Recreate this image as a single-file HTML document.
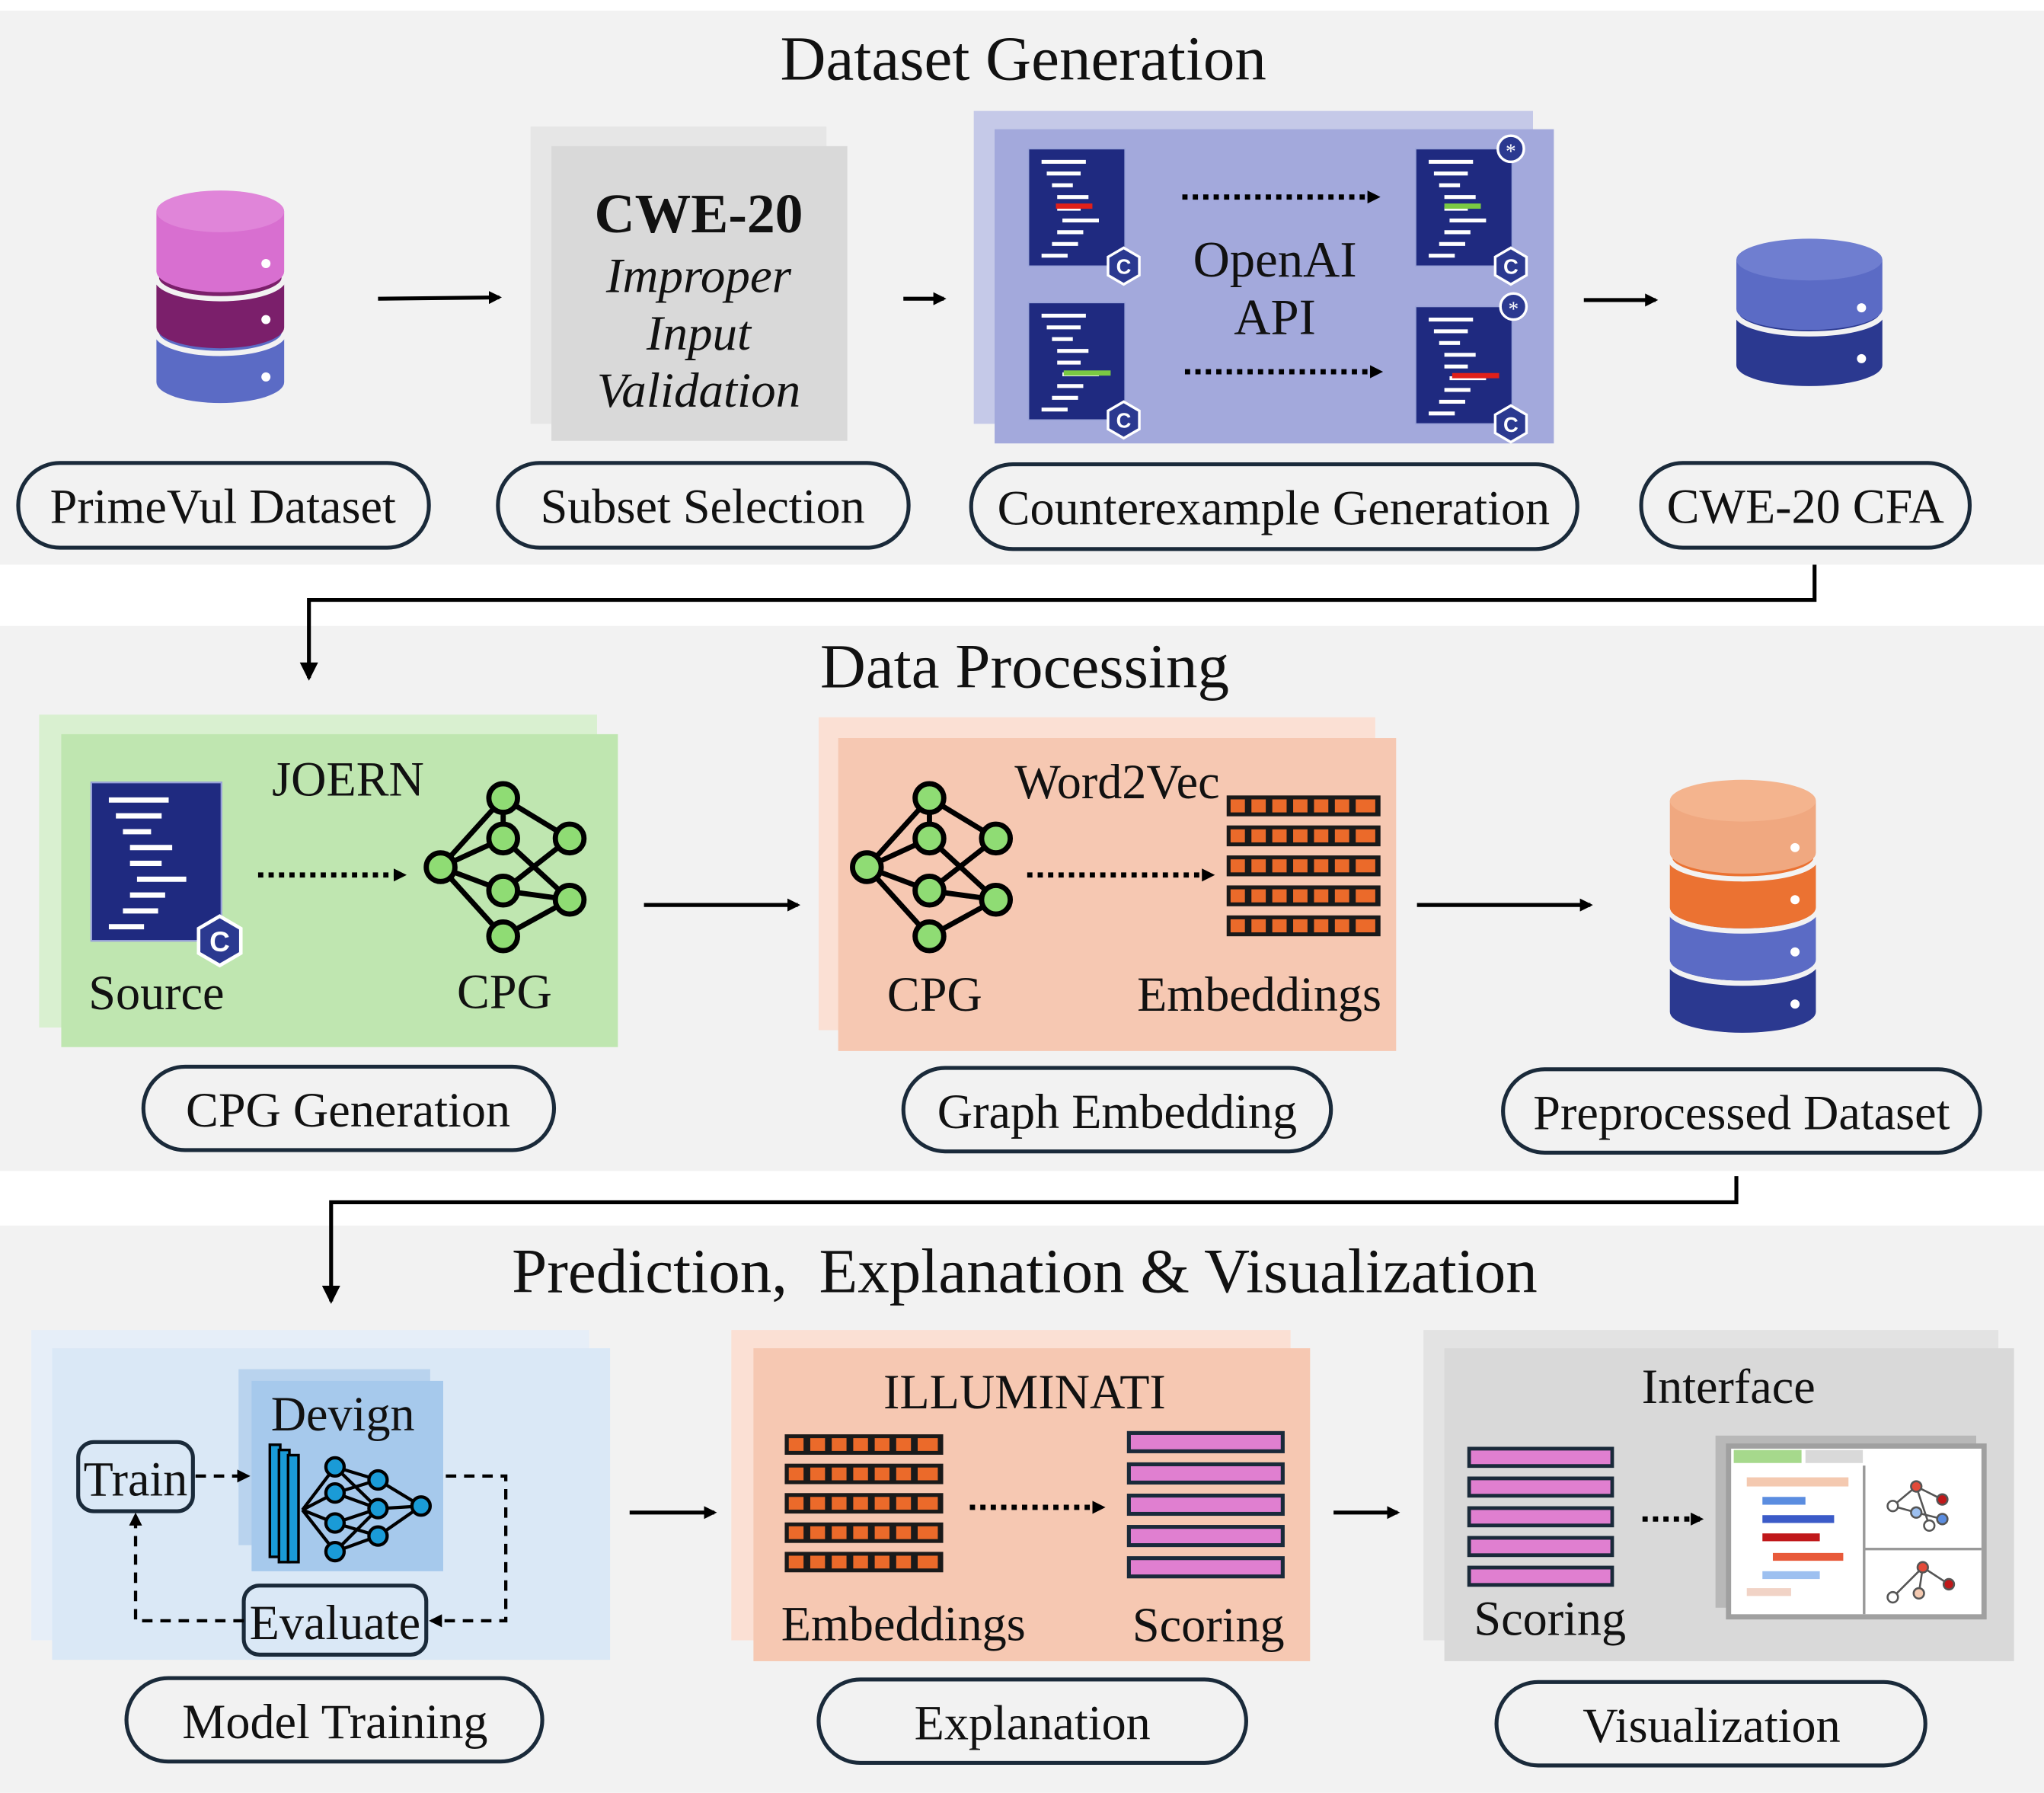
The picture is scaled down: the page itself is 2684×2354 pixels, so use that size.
<!DOCTYPE html>
<html><head><meta charset="utf-8"><style>html,body{margin:0;padding:0;background:#fff}svg{display:block}text{font-family:"Liberation Serif",serif;fill:#111}</style></head>
<body>
<svg width="2684" height="2354" viewBox="0 0 1568 1375" xmlns="http://www.w3.org/2000/svg">
<defs>
<marker id="ah" markerWidth="10" markerHeight="10" refX="8" refY="5" orient="auto" markerUnits="userSpaceOnUse"><path d="M0,0 L10,5 L0,10 z" fill="#000"/></marker>
<marker id="ah2" markerWidth="14" markerHeight="14" refX="12" refY="7" orient="auto" markerUnits="userSpaceOnUse"><path d="M0,0 L14,7 L0,14 z" fill="#000"/></marker>
<g id="graph">
<g stroke="#000" stroke-width="4" fill="none">
<line x1="0" y1="0" x2="48" y2="-53"/><line x1="0" y1="0" x2="48" y2="-22"/><line x1="0" y1="0" x2="48" y2="18"/><line x1="0" y1="0" x2="48" y2="53"/>
<line x1="48" y1="-53" x2="99" y2="-22"/><line x1="48" y1="-22" x2="99" y2="25"/><line x1="48" y1="18" x2="99" y2="-22"/><line x1="48" y1="18" x2="99" y2="25"/><line x1="48" y1="53" x2="99" y2="25"/><line x1="48" y1="-53" x2="48" y2="-22"/>
</g>
<g fill="#8fdc74" stroke="#000" stroke-width="4">
<circle cx="0" cy="0" r="11"/><circle cx="48" cy="-53" r="11"/><circle cx="48" cy="-22" r="11"/><circle cx="48" cy="18" r="11"/><circle cx="48" cy="53" r="11"/><circle cx="99" cy="-22" r="11"/><circle cx="99" cy="25" r="11"/>
</g></g>
<g id="grid">
<rect x="0" y="0" width="118" height="16" fill="#1a1a1a"/>
<g fill="#eb6a2a"><rect x="3" y="3" width="11" height="10"/><rect x="19" y="3" width="11" height="10"/><rect x="35" y="3" width="11" height="10"/><rect x="51" y="3" width="11" height="10"/><rect x="67" y="3" width="11" height="10"/><rect x="83" y="3" width="11" height="10"/><rect x="99" y="3" width="15" height="10"/></g>
</g>
<g id="grid5"><use href="#grid" y="0"/><use href="#grid" y="23"/><use href="#grid" y="46"/><use href="#grid" y="69"/><use href="#grid" y="92"/></g>
<g id="bar"><rect x="0" y="0" width="118" height="14" fill="#e07fd0" stroke="#1a2a3a" stroke-width="3"/></g>
<g id="bars5"><use href="#bar" y="0"/><use href="#bar" y="24"/><use href="#bar" y="48"/><use href="#bar" y="72"/><use href="#bar" y="96"/></g>
<g id="doc">
<rect x="0" y="0" width="74" height="90" fill="#1f2a80" stroke="#9aa3d8" stroke-width="1"/>
<g stroke="#fff" stroke-width="3"><line x1="10" y1="10" x2="44" y2="10"/><line x1="14" y1="19" x2="40" y2="19"/><line x1="18" y1="28" x2="34" y2="28"/><line x1="22" y1="37" x2="46" y2="37"/><line x1="22" y1="46" x2="40" y2="46"/><line x1="26" y1="55" x2="54" y2="55"/><line x1="22" y1="64" x2="42" y2="64"/><line x1="18" y1="73" x2="38" y2="73"/><line x1="10" y1="82" x2="30" y2="82"/></g>
<polygon points="73,76 85,83 85,97 73,104 61,97 61,83" fill="#2b3990" stroke="#fff" stroke-width="2"/>
<text x="73" y="96" font-weight="bold" font-size="16" text-anchor="middle" style="fill:#fff;font-family:'Liberation Sans',sans-serif">C</text>
</g>
</defs>

<rect x="0" y="8" width="1568" height="425" fill="#f2f2f2"/>
<rect x="0" y="480" width="1568" height="418" fill="#f2f2f2"/>
<rect x="0" y="940" width="1568" height="435" fill="#f2f2f2"/>

<text x="785" y="61" font-size="48.5" text-anchor="middle">Dataset Generation</text>
<text x="786" y="527" font-size="48.5" text-anchor="middle">Data Processing</text>
<text x="786" y="991" font-size="48.5" text-anchor="middle" xml:space="preserve">Prediction,  Explanation &amp; Visualization</text>

<polyline points="1392,433 1392,460 237,460 237,520" fill="none" stroke="#000" stroke-width="3" marker-end="url(#ah2)"/>
<polyline points="1332,902 1332,922 254,922 254,998" fill="none" stroke="#000" stroke-width="3" marker-end="url(#ah2)"/>

<g>
<path d="M120,255 v38 a49,16 0 0 0 98,0 v-38 z" fill="#5b6bc5"/>
<ellipse cx="169" cy="255" rx="49" ry="16" fill="#5b6bc5" stroke="#f2f2f2" stroke-width="4"/>
<path d="M120,213 v38 a49,16 0 0 0 98,0 v-38 z" fill="#7b1f6b"/>
<ellipse cx="169" cy="213" rx="49" ry="16" fill="#7b1f6b" stroke="#f2f2f2" stroke-width="4"/>
<path d="M120,162 v46 a49,16 0 0 0 98,0 v-46 z" fill="#d86fd0"/>
<ellipse cx="169" cy="162" rx="49" ry="16" fill="#e085d9"/>
<circle cx="204" cy="202" r="3.5" fill="#fff"/><circle cx="204" cy="245" r="3.5" fill="#fff"/><circle cx="204" cy="289" r="3.5" fill="#fff"/>
</g>
<line x1="290" y1="229" x2="383" y2="228" stroke="#000" stroke-width="3" marker-end="url(#ah)"/>
<rect x="407" y="97" width="227" height="228" fill="#e6e6e6"/>
<rect x="423" y="112" width="227" height="226" fill="#d9d9d9"/>
<text x="536" y="178" font-size="43" font-weight="bold" text-anchor="middle">CWE-20</text>
<text x="536" y="224" font-size="38" font-style="italic" text-anchor="middle">Improper</text>
<text x="536" y="268" font-size="38" font-style="italic" text-anchor="middle">Input</text>
<text x="536" y="312" font-size="38" font-style="italic" text-anchor="middle">Validation</text>
<line x1="693" y1="229" x2="724" y2="229" stroke="#000" stroke-width="3" marker-end="url(#ah)"/>
<rect x="747" y="85" width="429" height="240" fill="#c5c9e8"/>
<rect x="763" y="99" width="429" height="241" fill="#a3a9dc"/>
<use href="#doc" x="789" y="114"/>
<rect x="810" y="156" width="28" height="4" fill="#e0201a"/>
<use href="#doc" x="789" y="232"/>
<rect x="816" y="284" width="36" height="4" fill="#7ac943"/>
<use href="#doc" x="1086" y="114"/>
<rect x="1108" y="156" width="28" height="4" fill="#7ac943"/>
<use href="#doc" x="1086" y="235"/>
<rect x="1114" y="286" width="36" height="4" fill="#e0201a"/>
<circle cx="1159" cy="114" r="10" fill="#2b3990" stroke="#fff" stroke-width="2"/><text x="1159" y="121" font-size="16" text-anchor="middle" style="fill:#fff">*</text>
<circle cx="1161" cy="235" r="10" fill="#2b3990" stroke="#fff" stroke-width="2"/><text x="1161" y="242" font-size="16" text-anchor="middle" style="fill:#fff">*</text>
<line x1="907" y1="151" x2="1057" y2="151" stroke="#000" stroke-width="4" stroke-dasharray="4,4" marker-end="url(#ah)"/>
<line x1="909" y1="285" x2="1059" y2="285" stroke="#000" stroke-width="4" stroke-dasharray="4,4" marker-end="url(#ah)"/>
<text x="978" y="212" font-size="39" text-anchor="middle">OpenAI</text>
<text x="978" y="256" font-size="39" text-anchor="middle">API</text>
<line x1="1215" y1="230" x2="1270" y2="230" stroke="#000" stroke-width="3" marker-end="url(#ah)"/>
<g>
<path d="M1332,240 v40 a56,16 0 0 0 112,0 v-40 z" fill="#2b3990"/>
<ellipse cx="1388" cy="240" rx="56" ry="16" fill="#2b3990" stroke="#f2f2f2" stroke-width="4"/>
<path d="M1332,199 v38 a56,16 0 0 0 112,0 v-38 z" fill="#5b6bc5"/>
<ellipse cx="1388" cy="199" rx="56" ry="16" fill="#6f7ed0"/>
<circle cx="1428" cy="236" r="3.5" fill="#fff"/><circle cx="1428" cy="275" r="3.5" fill="#fff"/>
</g>
<g fill="none" stroke="#1a2a3a" stroke-width="3">
<rect x="14" y="355" width="315" height="65" rx="32"/>
<rect x="382" y="355" width="315" height="65" rx="32"/>
<rect x="745" y="356" width="465" height="65" rx="32"/>
<rect x="1259" y="355" width="252" height="65" rx="32"/>
</g>
<text x="171" y="401" font-size="37.5" text-anchor="middle">PrimeVul Dataset</text>
<text x="539" y="401" font-size="37.5" text-anchor="middle">Subset Selection</text>
<text x="977" y="402" font-size="37.5" text-anchor="middle">Counterexample Generation</text>
<text x="1385" y="401" font-size="37.5" text-anchor="middle">CWE-20 CFA</text>

<rect x="30" y="548" width="428" height="240" fill="#d9f0d0"/>
<rect x="47" y="563" width="427" height="240" fill="#bfe6b0"/>
<g transform="translate(70,600) scale(1.35)"><use href="#doc"/></g>
<text x="267" y="610" font-size="37.5" text-anchor="middle">JOERN</text>
<line x1="198" y1="671" x2="310" y2="671" stroke="#000" stroke-width="4" stroke-dasharray="4,4" marker-end="url(#ah)"/>
<use href="#graph" x="338" y="665"/>
<text x="120" y="774" font-size="37.5" text-anchor="middle">Source</text>
<text x="387" y="773" font-size="37.5" text-anchor="middle">CPG</text>
<line x1="494" y1="694" x2="612" y2="694" stroke="#000" stroke-width="3" marker-end="url(#ah)"/>
<rect x="628" y="550" width="427" height="240" fill="#fbe0d4"/>
<rect x="643" y="566" width="428" height="240" fill="#f6c8b2"/>
<use href="#graph" x="665" y="665"/>
<text x="857" y="612" font-size="37.5" text-anchor="middle">Word2Vec</text>
<line x1="788" y1="671" x2="930" y2="671" stroke="#000" stroke-width="4" stroke-dasharray="4,4" marker-end="url(#ah)"/>
<use href="#grid5" x="941" y="610"/>
<text x="717" y="775" font-size="37.5" text-anchor="middle">CPG</text>
<text x="966" y="775" font-size="37.5" text-anchor="middle">Embeddings</text>
<line x1="1087" y1="694" x2="1220" y2="694" stroke="#000" stroke-width="3" marker-end="url(#ah)"/>
<g>
<path d="M1281,738 v38 a56,16 0 0 0 112,0 v-38 z" fill="#2b3990"/>
<ellipse cx="1337" cy="738" rx="56" ry="16" fill="#2b3990" stroke="#f2f2f2" stroke-width="4"/>
<path d="M1281,698 v38 a56,16 0 0 0 112,0 v-38 z" fill="#5b6bc5"/>
<ellipse cx="1337" cy="698" rx="56" ry="16" fill="#5b6bc5" stroke="#f2f2f2" stroke-width="4"/>
<path d="M1281,658 v38 a56,16 0 0 0 112,0 v-38 z" fill="#eb7232"/>
<ellipse cx="1337" cy="658" rx="56" ry="16" fill="#eb7232" stroke="#f2f2f2" stroke-width="4"/>
<path d="M1281,614 v40 a56,16 0 0 0 112,0 v-40 z" fill="#f0a880"/>
<ellipse cx="1337" cy="614" rx="56" ry="16" fill="#f4b48e"/>
<circle cx="1377" cy="650" r="3.5" fill="#fff"/><circle cx="1377" cy="690" r="3.5" fill="#fff"/><circle cx="1377" cy="730" r="3.5" fill="#fff"/><circle cx="1377" cy="770" r="3.5" fill="#fff"/>
</g>
<g fill="none" stroke="#1a2a3a" stroke-width="3">
<rect x="110" y="818" width="315" height="64" rx="32"/>
<rect x="693" y="819" width="328" height="64" rx="32"/>
<rect x="1153" y="820" width="366" height="64" rx="32"/>
</g>
<text x="267" y="864" font-size="37.5" text-anchor="middle">CPG Generation</text>
<text x="857" y="865" font-size="37.5" text-anchor="middle">Graph Embedding</text>
<text x="1336" y="866" font-size="37.5" text-anchor="middle">Preprocessed Dataset</text>

<rect x="24" y="1020" width="428" height="238" fill="#e6eef8"/>
<rect x="40" y="1034" width="428" height="239" fill="#dae8f6"/>
<rect x="183" y="1050" width="147" height="135" fill="#b9d3ee"/>
<rect x="193" y="1059" width="147" height="146" fill="#a6c9ec"/>
<text x="263" y="1097" font-size="37.5" text-anchor="middle">Devign</text>
<g fill="#1a9bd7" stroke="#000" stroke-width="2">
<rect x="207" y="1108" width="8" height="86"/><rect x="214" y="1112" width="8" height="86"/><rect x="221" y="1116" width="8" height="82"/>
</g>
<g stroke="#000" stroke-width="2.5" fill="none">
<path d="M232,1158 L257,1125 M232,1158 L257,1145 M232,1158 L257,1168 M232,1158 L257,1190 M257,1125 L290,1135 M257,1145 L290,1135 M257,1145 L290,1157 M257,1168 L290,1157 M257,1168 L290,1178 M257,1190 L290,1178 M257,1125 L290,1157 M257,1190 L290,1157 M290,1135 L323,1155 M290,1157 L323,1155 M290,1178 L323,1155"/>
</g>
<g fill="#1a9bd7" stroke="#000" stroke-width="2.5">
<circle cx="257" cy="1125" r="7"/><circle cx="257" cy="1145" r="7"/><circle cx="257" cy="1168" r="7"/><circle cx="257" cy="1190" r="7"/><circle cx="290" cy="1135" r="7"/><circle cx="290" cy="1157" r="7"/><circle cx="290" cy="1178" r="7"/><circle cx="323" cy="1155" r="7"/>
</g>
<rect x="60" y="1106" width="88" height="53" rx="12" fill="#dae8f6" stroke="#1a2a3a" stroke-width="3"/>
<text x="104" y="1147" font-size="37.5" text-anchor="middle">Train</text>
<rect x="187" y="1216" width="140" height="53" rx="12" fill="#dae8f6" stroke="#1a2a3a" stroke-width="3"/>
<text x="257" y="1257" font-size="37.5" text-anchor="middle">Evaluate</text>
<g fill="none" stroke="#000" stroke-width="2.5" stroke-dasharray="8,6">
<line x1="150" y1="1132" x2="190" y2="1132" marker-end="url(#ah)"/>
<polyline points="342,1132 388,1132 388,1243 331,1243" marker-end="url(#ah)"/>
<polyline points="187,1243 104,1243 104,1162" marker-end="url(#ah)"/>
</g>
<line x1="483" y1="1160" x2="548" y2="1160" stroke="#000" stroke-width="3" marker-end="url(#ah)"/>
<rect x="561" y="1020" width="429" height="238" fill="#fbe0d4"/>
<rect x="578" y="1034" width="427" height="240" fill="#f6c8b2"/>
<text x="786" y="1080" font-size="37.5" text-anchor="middle">ILLUMINATI</text>
<g transform="translate(602,1100) scale(1.03,0.98)"><use href="#grid5"/></g>
<line x1="744" y1="1156" x2="846" y2="1156" stroke="#000" stroke-width="4" stroke-dasharray="4,4" marker-end="url(#ah)"/>
<use href="#bars5" x="866" y="1099"/>
<text x="693" y="1258" font-size="37.5" text-anchor="middle">Embeddings</text>
<text x="927" y="1259" font-size="37.5" text-anchor="middle">Scoring</text>
<line x1="1023" y1="1160" x2="1072" y2="1160" stroke="#000" stroke-width="3" marker-end="url(#ah)"/>
<rect x="1092" y="1020" width="441" height="238" fill="#e3e3e3"/>
<rect x="1108" y="1034" width="437" height="240" fill="#d9d9d9"/>
<text x="1326" y="1076" font-size="37.5" text-anchor="middle">Interface</text>
<g transform="translate(1127,1111) scale(0.93,0.95)"><use href="#bars5"/></g>
<line x1="1260" y1="1165" x2="1305" y2="1165" stroke="#000" stroke-width="4" stroke-dasharray="4,4" marker-end="url(#ah)"/>
<text x="1189" y="1254" font-size="37.5" text-anchor="middle">Scoring</text>
<rect x="1316" y="1101" width="200" height="132" fill="#b8b8b8"/>
<rect x="1324" y="1107" width="200" height="135" fill="#a0a0a0"/>
<rect x="1328" y="1111" width="192" height="127" fill="#fff"/>
<rect x="1330" y="1112" width="52" height="10" fill="#a6d98c"/><rect x="1385" y="1112" width="44" height="10" fill="#d9d9d9"/>
<line x1="1430" y1="1124" x2="1430" y2="1238" stroke="#999" stroke-width="2"/>
<line x1="1430" y1="1188" x2="1520" y2="1188" stroke="#999" stroke-width="2"/>
<rect x="1340" y="1133" width="78" height="7" fill="#f4c9b0"/>
<rect x="1352" y="1148" width="33" height="6" fill="#5b8de0"/>
<rect x="1352" y="1162" width="55" height="6" fill="#3b5bc8"/>
<rect x="1352" y="1176" width="44" height="6" fill="#c0181a"/>
<rect x="1360" y="1191" width="54" height="6" fill="#e85a3a"/>
<rect x="1352" y="1205" width="44" height="6" fill="#9dc0f0"/>
<rect x="1340" y="1218" width="34" height="6" fill="#f1d3c6"/>
<g stroke="#555" stroke-width="1.5" fill="none"><path d="M1452,1155 L1470,1140 L1490,1150 M1452,1155 L1470,1160 L1490,1165 M1470,1140 L1480,1170"/><path d="M1452,1225 L1475,1202 L1495,1215 M1475,1202 L1472,1222"/></g>
<g stroke="#555" stroke-width="1.5"><circle cx="1452" cy="1155" r="4" fill="#fff"/><circle cx="1470" cy="1140" r="4" fill="#e34b3a"/><circle cx="1490" cy="1150" r="4" fill="#c0181a"/><circle cx="1470" cy="1160" r="4" fill="#9dc0f0"/><circle cx="1490" cy="1165" r="4" fill="#5b8de0"/><circle cx="1480" cy="1170" r="4" fill="#fff"/><circle cx="1452" cy="1225" r="4" fill="#fff"/><circle cx="1475" cy="1202" r="4" fill="#e34b3a"/><circle cx="1495" cy="1215" r="4" fill="#c0181a"/><circle cx="1472" cy="1222" r="4" fill="#f4c9b0"/></g>
<g fill="none" stroke="#1a2a3a" stroke-width="3">
<rect x="97" y="1287" width="319" height="64" rx="32"/>
<rect x="628" y="1288" width="328" height="64" rx="32"/>
<rect x="1148" y="1290" width="329" height="64" rx="32"/>
</g>
<text x="257" y="1333" font-size="37.5" text-anchor="middle">Model Training</text>
<text x="792" y="1334" font-size="37.5" text-anchor="middle">Explanation</text>
<text x="1313" y="1336" font-size="37.5" text-anchor="middle">Visualization</text>
</svg>
</body></html>
